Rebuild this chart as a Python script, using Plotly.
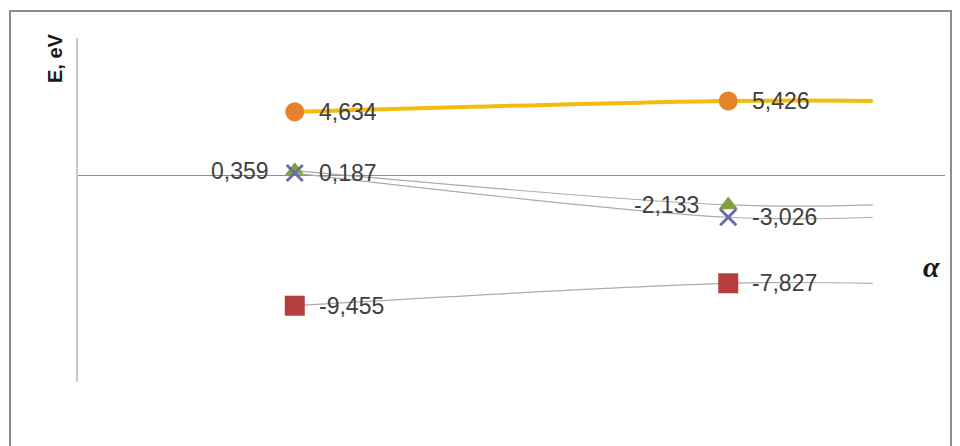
import plotly.graph_objects as go

# Data
x_pos = [3, 9, 11]
s_orange = [4.634, 5.426, 5.426]
s_red = [-9.455, -7.827, -7.827]
s_green = [0.359, -2.133, -2.133]
s_blue = [0.187, -3.026, -3.026]

def fmt(v):
    return f"{v:.3f}".replace(".", ",")

OFF = 8  # page body margin
W, H = 960 - OFF, 446 - OFF
L, T = 78 - OFF, 38 - OFF
pw, ph = 867, 344
R = W - L - pw
B = H - T - ph

def px_x(px):  # screen px -> paper x
    return (px - OFF - L) / pw

def px_y(py):  # screen px -> paper y
    return (T + ph - (py - OFF)) / ph

fig = go.Figure()

thin_gray = dict(color="#ABABAB", width=1.2, shape="spline", smoothing=1.0)

fig.add_trace(go.Scatter(x=x_pos, y=s_red, mode="lines+markers", line=thin_gray,
                         marker=dict(symbol="square", size=[20, 20, 0], color="#B53E3B",
                                     opacity=1, line=dict(width=0))))
fig.add_trace(go.Scatter(x=x_pos, y=s_green, mode="lines+markers", line=thin_gray,
                         marker=dict(symbol="triangle-up", size=[17, 17, 0], color="#7FA23F",
                                     opacity=1, line=dict(width=0))))
fig.add_trace(go.Scatter(x=x_pos, y=s_blue, mode="lines+markers", line=thin_gray,
                         marker=dict(symbol="x-thin", size=[16, 16, 0], opacity=1,
                                     line=dict(width=3, color="#6A6DA8"), color="#6A6DA8")))
fig.add_trace(go.Scatter(x=x_pos, y=s_orange, mode="lines+markers",
                         line=dict(color="#F3BC0C", width=4, shape="spline", smoothing=1.0),
                         marker=dict(symbol="circle", size=[19, 19, 0], color="#E5822A",
                                     opacity=1, line=dict(width=0))))

lab_font = dict(family="Liberation Sans, Arial, sans-serif", size=23, color="#404040")
ann = []
def add_label(x, y, side, shift):
    ann.append(dict(x=x, y=y, xref="x", yref="y", text=fmt(y), showarrow=False,
                    xanchor="left" if side == "r" else "right", yanchor="middle",
                    xshift=shift, font=lab_font))

add_label(x_pos[0], s_orange[0], "r", 22)
add_label(x_pos[1], s_orange[1], "r", 22)
add_label(x_pos[0], s_green[0], "l", -24)
add_label(x_pos[0], s_blue[0], "r", 22)
add_label(x_pos[1], s_green[1], "l", -27)
add_label(x_pos[1], s_blue[1], "r", 22)
add_label(x_pos[0], s_red[0], "r", 22)
add_label(x_pos[1], s_red[1], "r", 22)

ann.append(dict(x=px_x(55), y=px_y(58), xref="paper", yref="paper",
                text="<b>E, eV</b>", textangle=-90, showarrow=False,
                font=dict(family="Liberation Sans, Arial, sans-serif", size=20, color="#1a1a1a"),
                xanchor="center", yanchor="middle"))
ann.append(dict(x=px_x(931), y=px_y(266), xref="paper", yref="paper",
                text="<b><i>α</i></b>", showarrow=False,
                font=dict(family="Liberation Serif, Times New Roman, serif", size=30, color="#1a1a1a"),
                xanchor="center", yanchor="middle"))

shapes = [dict(type="rect", xref="paper", yref="paper",
               x0=px_x(10), x1=px_x(951),
               y0=px_y(470), y1=px_y(11),
               line=dict(color="#8C8C8C", width=2), fillcolor="rgba(0,0,0,0)", layer="below")]

fig.update_layout(
    width=W, height=H,
    margin=dict(l=L, r=R, t=T, b=B),
    paper_bgcolor="white", plot_bgcolor="white",
    showlegend=False,
    annotations=ann, shapes=shapes,
    xaxis=dict(range=[0, 12], showgrid=False, zeroline=False, showline=False,
               showticklabels=False, ticks=""),
    yaxis=dict(range=[-15, 10], showgrid=False, zeroline=True, zerolinecolor="#8E8E8E",
               zerolinewidth=1, showline=True, linecolor="#C8C8C8", linewidth=2,
               showticklabels=False, ticks=""),
)

fig.write_html("out.html")
